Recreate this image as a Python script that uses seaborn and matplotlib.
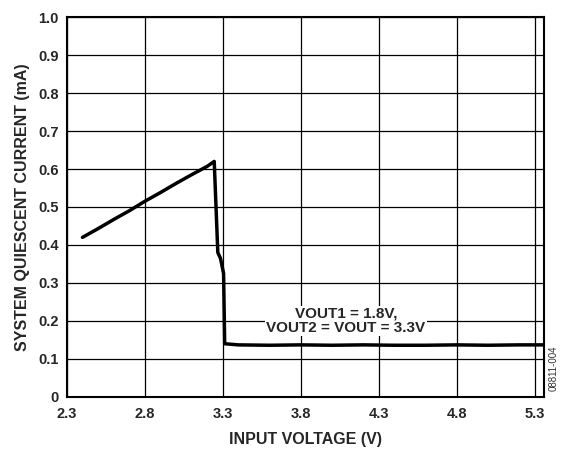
import matplotlib
matplotlib.use("Agg")
import matplotlib.pyplot as plt
import pandas as pd
import seaborn as sns

# curve
vin = [2.40, 2.50, 2.60, 2.70, 2.80, 2.90, 3.00, 3.10, 3.20, 3.245, 3.268, 3.285, 3.305, 3.312,
       3.40, 3.60, 3.80, 4.00, 4.20, 4.40, 4.60, 4.80, 5.00, 5.20, 5.36]
iq = [0.420, 0.443, 0.467, 0.490, 0.515, 0.538, 0.562, 0.585, 0.607, 0.620, 0.380, 0.365, 0.325, 0.140,
      0.137, 0.136, 0.137, 0.136, 0.137, 0.136, 0.136, 0.137, 0.136, 0.137, 0.137]

x_ticks = [2.3, 2.8, 3.3, 3.8, 4.3, 4.8, 5.3]
y_ticks = [0, 0.1, 0.2, 0.3, 0.4, 0.5, 0.6, 0.7, 0.8, 0.9, 1.0]
y_labels = ["0", "0.1", "0.2", "0.3", "0.4", "0.5", "0.6", "0.7", "0.8", "0.9", "1.0"]

df = pd.DataFrame({"vin": vin, "iq": iq})

sns.set_theme(style="white")
plt.rcParams["font.family"] = ["Liberation Sans", "DejaVu Sans"]

fig = plt.figure(figsize=(5.62, 4.49), dpi=100)
ax = fig.add_axes([0.119, 0.116, 0.849, 0.846])

sns.lineplot(data=df, x="vin", y="iq", color="black", linewidth=2.5, ax=ax, sort=False)

ax.set_xlim(2.3, 5.36)
ax.set_ylim(0, 1.0)
ax.set_xticks(x_ticks)
ax.set_xticklabels([f"{t:.1f}" for t in x_ticks])
ax.set_yticks(y_ticks)
ax.set_yticklabels(y_labels)
ax.grid(True, color="black", linewidth=0.9)
ax.set_axisbelow(True)
for s in ax.spines.values():
    s.set_color("black")
    s.set_linewidth(1.5)
ax.tick_params(axis="x", length=0, pad=7, labelsize=10.5)
ax.tick_params(axis="y", length=0, pad=6, labelsize=10.5)
for lbl in ax.get_xticklabels() + ax.get_yticklabels():
    lbl.set_fontweight("bold")

ax.set_xlabel("INPUT VOLTAGE (V)", fontsize=11.5, fontweight="bold", labelpad=8)
ax.set_ylabel("SYSTEM QUIESCENT CURRENT (mA)", fontsize=11.5, fontweight="bold", labelpad=6)

ax.text(4.09, 0.20, "VOUT1 = 1.8V,\nVOUT2 = VOUT = 3.3V", ha="center", va="center",
        fontsize=11, fontweight="bold", linespacing=1.0,
        bbox=dict(facecolor="white", edgecolor="none", pad=1.0))

fig.text(0.985, 0.18, "08811-004", rotation=90, ha="center", va="center", fontsize=7, color="#333333")

fig.savefig("out.png", dpi=100)
